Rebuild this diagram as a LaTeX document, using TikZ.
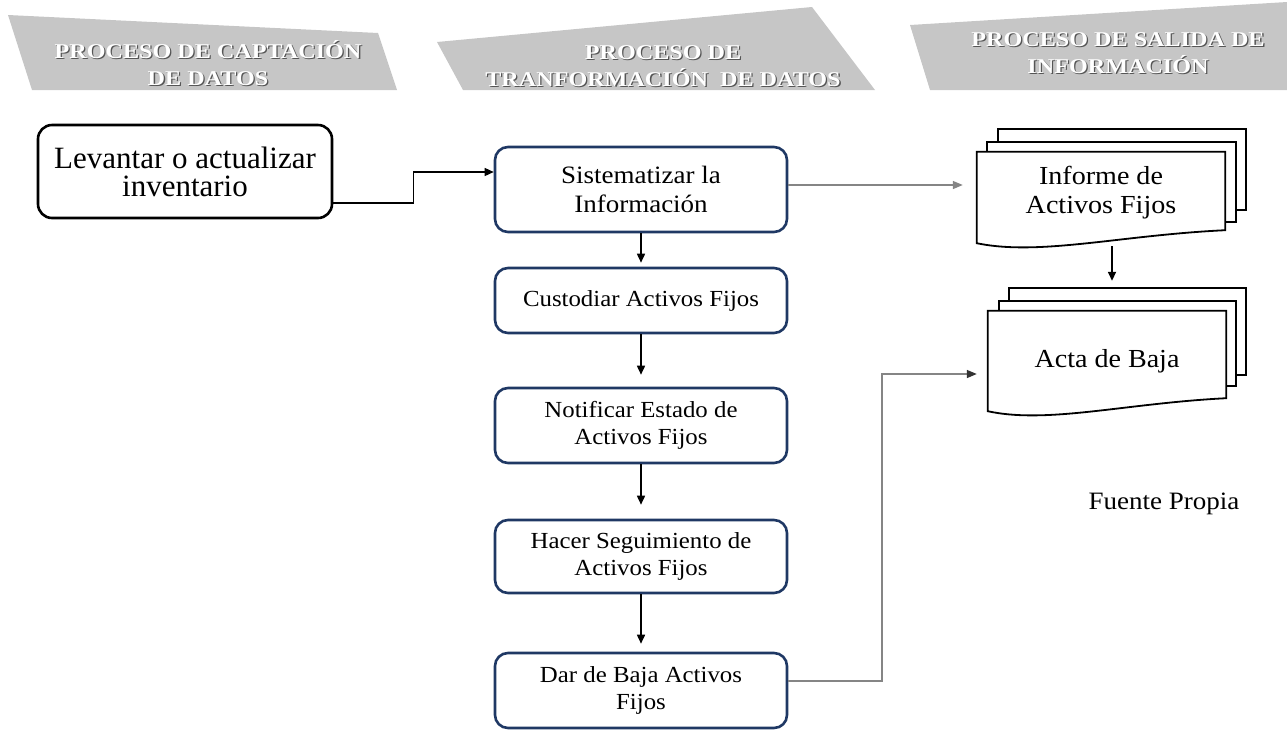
\documentclass[tikz,border=0pt]{standalone}
\usepackage{fontspec}
\setmainfont{Liberation Serif}
\newfontfamily\bodyfont[FakeStretch=1.08]{Liberation Serif}
\newfontfamily\headfont[FakeStretch=1.15]{Liberation Serif}
\usetikzlibrary{arrows.meta,calc,backgrounds}
\definecolor{navy}{HTML}{1F3864}
\definecolor{bannergray}{HTML}{C6C6C6}
\definecolor{linkgray}{HTML}{858585}
\definecolor{headshadow}{HTML}{555555}

\begin{document}
\begin{tikzpicture}[x=1pt,y=-1pt,
  startbox/.style={draw=black, line width=2.6pt, rounded corners=14pt, align=center,
    inner sep=0pt, font=\fontsize{31}{28}\selectfont},
  stepbox/.style={draw=navy, line width=2.6pt, rounded corners=13pt, minimum width=292pt,
    align=center, inner sep=0pt, font=\bodyfont\fontsize{23}{26.5}\selectfont},
  doctext/.style={inner sep=0pt, align=center, font=\bodyfont\fontsize{26}{29}\selectfont},
  docline/.style={draw=black, fill=white, line width=1.8pt},
  flow/.style={draw=black, line width=1.6pt, -{Triangle[length=9pt,width=8pt]}},
  graylink/.style={draw=linkgray, line width=1.5pt, -{Triangle[length=10pt,width=8pt]}},
  headtext/.style={align=center, inner sep=0pt, text=white,
    font=\headfont\bfseries\fontsize{21}{27}\selectfont},
  headshade/.style={headtext, text=headshadow},
]
\useasboundingbox (0,0) rectangle (1287,732);

% column banners
\fill[bannergray] (8,15) -- (378,33) -- (397,90) -- (32,90) -- cycle;
\fill[bannergray] (437,42) -- (812,7) -- (875,90) -- (463,90) -- cycle;
\fill[bannergray] (910,25) -- (1287,2) -- (1287,90) -- (930,90) -- cycle;

\node[headshade] (h1s) at (209.3,64.3) {PROCESO DE CAPTACIÓN\\DE DATOS};
\node[headtext]  (h1)  at (208,63) {PROCESO DE CAPTACIÓN\\DE DATOS};
\node[headshade] (h2s) at (664.3,67.3) {PROCESO DE\\TRANFORMACIÓN\ \ DE DATOS};
\node[headtext]  (h2)  at (663,66) {PROCESO DE\\TRANFORMACIÓN\ \ DE DATOS};
\node[headshade] (h3s) at (1119.3,54.3) {PROCESO DE SALIDA DE\\INFORMACIÓN};
\node[headtext]  (h3)  at (1118,53) {PROCESO DE SALIDA DE\\INFORMACIÓN};

% data capture
\node[startbox, minimum width=294pt, minimum height=93pt] (inv) at (185,171.5)
  {Levantar o actualizar\\inventario};

% transformation steps
\node[stepbox, minimum height=85pt, font=\bodyfont\fontsize{25}{29}\selectfont] (b1) at (641,189.5)
  {Sistematizar la\\Información};
\node[stepbox, minimum height=65pt] (b2) at (641,300.5) {Custodiar Activos Fijos};
\node[stepbox, minimum height=75pt] (b3) at (641,425.5) {Notificar Estado de\\Activos Fijos};
\node[stepbox, minimum height=73pt] (b4) at (641,556.5) {Hacer Seguimiento de\\Activos Fijos};
\node[stepbox, minimum height=75pt] (b5) at (641,690.5) {Dar de Baja Activos\\Fijos};

% output documents
\node[doctext, minimum width=248pt, minimum height=82pt] (inf) at (1101,193)
  {Informe de\\Activos Fijos};
\node[doctext, minimum width=238pt, minimum height=100pt] (acta) at (1107,361)
  {Acta de Baja};

\begin{scope}[on background layer]
  % stacked pages behind each document
  \draw[docline] ($(inf.north west)+(21,-23)$) rectangle ($(inf.south east)+(21,-24)$);
  \draw[docline] ($(inf.north west)+(10,-10)$) rectangle ($(inf.south east)+(11,-12)$);
  \draw[docline] (inf.north west) -- (inf.north east) -- ($(inf.south east)+(0,-4)$)
    .. controls ($(inf.south west)+(143,1)$) and ($(inf.south west)+(63,22)$) .. ($(inf.south west)+(0,9)$) -- cycle;
  \draw[docline] ($(acta.north west)+(21,-23)$) rectangle ($(acta.south east)+(20,-36)$);
  \draw[docline] ($(acta.north west)+(11,-10)$) rectangle ($(acta.south east)+(10,-25)$);
  \draw[docline] (acta.north west) -- (acta.north east) -- ($(acta.south east)+(0,-13)$)
    .. controls ($(acta.south west)+(138,-8)$) and ($(acta.south west)+(60,13)$) .. (acta.south west) -- cycle;
\end{scope}

\node[font=\bodyfont\fontsize{25}{28}\selectfont, inner sep=0pt] (src) at (1164,504) {Fuente Propia};

% connectors
\coordinate (a0) at ($(inv.east)+(0,31.5)$);
\coordinate (a1) at ($(b1.west)+(0,-17.5)$);
\draw[flow, line width=1.4pt] (a0) -| ($(a0)!0.5!(a1)$) |- (a1);

\draw[flow, shorten >=4pt] (b1.south) -- (b2.north);
\draw[flow, shorten >=12pt] (b2.south) -- (b3.north);
\draw[flow, shorten >=14pt] (b3.south) -- (b4.north);
\draw[flow, shorten >=8pt] (b4.south) -- (b5.north);

\coordinate (g0) at ($(b1.east)+(0,-4.5)$);
\draw[graylink, shorten >=14pt] (g0) -- (g0 -| inf.west);

\coordinate (d0) at ($(inf.south)+(11,12)$);
\draw[flow, shorten >=30pt] (d0) -- (d0 |- acta.north);

\coordinate (c0) at ($(b5.east)+(0,-9.5)$);
\coordinate (c1) at ($(acta.west)+(0,13)$);
\draw[draw=linkgray, line width=1.5pt, shorten >=11pt,
  -{Triangle[length=10pt,width=8pt,color=black!80]}] (c0) -| ($(c0)!0.47!(c1)$) |- (c1);
\end{tikzpicture}
\end{document}
